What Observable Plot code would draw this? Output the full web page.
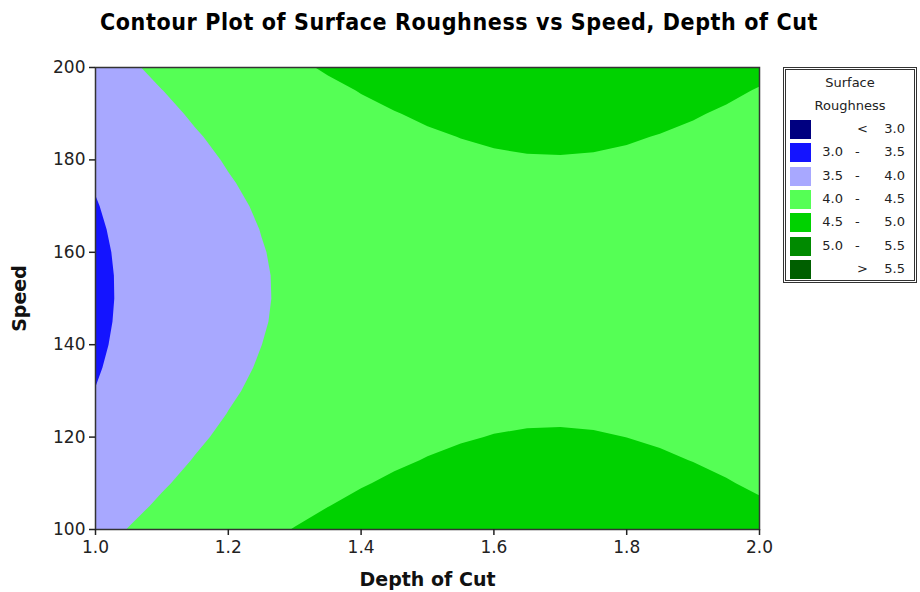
<!DOCTYPE html>
<html><head><meta charset="utf-8">
<script src="https://cdn.jsdelivr.net/npm/d3@7"></script>
<script src="https://cdn.jsdelivr.net/npm/@observablehq/plot@0.6"></script>
<style>
body{margin:0;background:#fff;}
#wrap{position:relative;width:920px;height:592px;font-family:"DejaVu Sans",sans-serif;color:#222;}
#title{position:absolute;left:0;top:9px;width:918px;text-align:center;font-family:"DejaVu Sans Condensed","DejaVu Sans",sans-serif;font-stretch:condensed;font-weight:bold;font-size:23px;letter-spacing:0.6px;color:#000;}
#chart{position:absolute;left:0;top:45px;}
#legend{position:absolute;left:783px;top:67px;width:128px;height:210px;border:3px double #333;font-size:13px;}
#legend .lt{position:absolute;left:0;width:128px;text-align:center;}
#legend .sw{position:absolute;left:4px;width:21px;height:19px;}
#legend .tx{position:absolute;white-space:nowrap;}
</style>
</head><body>
<div id="wrap">
  <div id="title">Contour Plot of Surface Roughness vs Speed, Depth of Cut</div>
  <div id="chart"></div>
  <div id="legend"></div>
</div>
<script>
// Grid sample positions (columns: Depth of Cut, rows: Speed)
const depthOfCut = [1.00, 1.05, 1.10, 1.15, 1.20, 1.25, 1.30, 1.35, 1.40, 1.45, 1.50,
                    1.55, 1.60, 1.65, 1.70, 1.75, 1.80, 1.85, 1.90, 1.95, 2.00];
const speed = [100, 105, 110, 115, 120, 125, 130, 135, 140, 145, 150,
               155, 160, 165, 170, 175, 180, 185, 190, 195, 200];
// Surface roughness at each (speed row, depth column)
const roughness = [
  [3.880,4.010,4.129,4.239,4.339,4.430,4.510,4.581,4.642,4.694,4.736,4.768,4.790,4.803,4.806,4.799,4.782,4.756,4.720,4.675,4.619], // 100
  [3.797,3.926,4.046,4.155,4.255,4.346,4.427,4.498,4.559,4.610,4.652,4.684,4.707,4.719,4.722,4.715,4.699,4.672,4.637,4.591,4.535], // 105
  [3.722,3.851,3.970,4.080,4.180,4.271,4.351,4.422,4.484,4.535,4.577,4.609,4.631,4.644,4.647,4.640,4.624,4.597,4.561,4.516,4.460], // 110
  [3.655,3.784,3.904,4.014,4.114,4.204,4.285,4.356,4.417,4.468,4.510,4.542,4.565,4.577,4.580,4.573,4.557,4.531,4.495,4.449,4.394], // 115
  [3.597,3.726,3.846,3.955,4.056,4.146,4.227,4.298,4.359,4.410,4.452,4.484,4.507,4.519,4.522,4.515,4.499,4.472,4.437,4.391,4.335], // 120
  [3.547,3.676,3.796,3.906,4.006,4.096,4.177,4.248,4.309,4.361,4.402,4.435,4.457,4.470,4.472,4.466,4.449,4.423,4.387,4.341,4.286], // 125
  [3.506,3.635,3.755,3.865,3.965,4.055,4.136,4.207,4.268,4.320,4.361,4.393,4.416,4.428,4.431,4.425,4.408,4.382,4.346,4.300,4.245], // 130
  [3.473,3.603,3.722,3.832,3.932,4.023,4.103,4.174,4.235,4.287,4.329,4.361,4.383,4.396,4.399,4.392,4.375,4.349,4.313,4.268,4.212], // 135
  [3.449,3.579,3.698,3.808,3.908,3.999,4.079,4.150,4.211,4.263,4.305,4.337,4.359,4.372,4.375,4.368,4.351,4.325,4.289,4.244,4.188], // 140
  [3.434,3.563,3.683,3.793,3.893,3.983,4.064,4.135,4.196,4.247,4.289,4.321,4.344,4.356,4.359,4.352,4.336,4.310,4.274,4.228,4.173], // 145
  [3.427,3.556,3.676,3.786,3.886,3.976,4.057,4.128,4.189,4.240,4.282,4.314,4.337,4.349,4.352,4.345,4.329,4.303,4.267,4.221,4.166], // 150
  [3.428,3.558,3.677,3.787,3.887,3.978,4.058,4.129,4.190,4.242,4.284,4.316,4.338,4.351,4.354,4.347,4.330,4.304,4.268,4.223,4.167], // 155
  [3.438,3.568,3.687,3.797,3.897,3.988,4.068,4.139,4.201,4.252,4.294,4.326,4.348,4.361,4.364,4.357,4.341,4.314,4.278,4.233,4.177], // 160
  [3.457,3.586,3.706,3.816,3.916,4.006,4.087,4.158,4.219,4.271,4.312,4.345,4.367,4.380,4.382,4.376,4.359,4.333,4.297,4.251,4.196], // 165
  [3.484,3.613,3.733,3.843,3.943,4.033,4.114,4.185,4.246,4.298,4.340,4.372,4.394,4.407,4.410,4.403,4.386,4.360,4.324,4.278,4.223], // 170
  [3.520,3.649,3.769,3.878,3.979,4.069,4.150,4.221,4.282,4.333,4.375,4.407,4.430,4.442,4.445,4.438,4.422,4.396,4.360,4.314,4.259], // 175
  [3.564,3.693,3.813,3.923,4.023,4.113,4.194,4.265,4.326,4.378,4.419,4.451,4.474,4.486,4.489,4.483,4.466,4.440,4.404,4.358,4.303], // 180
  [3.617,3.746,3.865,3.975,4.075,4.166,4.247,4.317,4.379,4.430,4.472,4.504,4.526,4.539,4.542,4.535,4.519,4.492,4.456,4.411,4.355], // 185
  [3.678,3.807,3.927,4.037,4.137,4.227,4.308,4.379,4.440,4.491,4.533,4.565,4.588,4.600,4.603,4.596,4.580,4.554,4.518,4.472,4.417], // 190
  [3.748,3.877,3.996,4.106,4.206,4.297,4.377,4.448,4.510,4.561,4.603,4.635,4.657,4.670,4.673,4.666,4.650,4.623,4.587,4.542,4.486], // 195
  [3.826,3.955,4.075,4.185,4.285,4.375,4.456,4.527,4.588,4.639,4.681,4.713,4.736,4.748,4.751,4.744,4.728,4.702,4.666,4.620,4.565]  // 200
];
const thresholds = [3.0, 3.5, 4.0, 4.5, 5.0, 5.5];
const bandColors = ["#000080", "#1414ff", "#a8a8ff", "#55ff55", "#00d200", "#008a00", "#005f00"];
const xTicks = [1.0, 1.2, 1.4, 1.6, 1.8, 2.0];
const yTicks = [100, 120, 140, 160, 180, 200];
const legendLow = ["", "3.0", "3.5", "4.0", "4.5", "5.0", ""];
const legendSep = ["<", "-", "-", "-", "-", "-", ">"];
const legendHigh = ["3.0", "3.5", "4.0", "4.5", "5.0", "5.5", "5.5"];

const nx = depthOfCut.length, ny = speed.length;
const hx = (depthOfCut[1] - depthOfCut[0]) / 2, hy = (speed[1] - speed[0]) / 2;
const flat = roughness.flat();

const chart = Plot.plot({
  width: 920,
  height: 547,
  marginLeft: 95,
  marginRight: 161,
  marginTop: 22,
  marginBottom: 63,
  style: {fontFamily: "DejaVu Sans, sans-serif", fontSize: "17px", color: "#222", background: "white"},
  x: {domain: [1, 2]},
  y: {domain: [100, 200]},
  color: {type: "threshold", domain: thresholds, range: bandColors},
  marks: [
    Plot.contour(flat, {
      width: nx, height: ny,
      x1: depthOfCut[0] - hx, x2: depthOfCut[nx - 1] + hx,
      y1: speed[0] - hy, y2: speed[ny - 1] + hy,
      thresholds, fill: Plot.identity, stroke: "none", clip: true
    }),
    Plot.frame({stroke: "#333", strokeWidth: 1.5}),
    Plot.axisX({ticks: xTicks, tickFormat: d => d.toFixed(1), tickSize: 6, tickPadding: 5, label: null, strokeWidth: 1.5}),
    Plot.axisY({ticks: yTicks, tickSize: 6, tickPadding: 4, label: null, strokeWidth: 1.5}),
    Plot.text(["Depth of Cut"], {frameAnchor: "bottom", dy: 56, fontWeight: "bold", fontSize: 19, fill: "#111"}),
    Plot.text(["Speed"], {frameAnchor: "left", textAnchor: "middle", dx: -76, rotate: -90, fontWeight: "bold", fontSize: 19, fill: "#111"})
  ]
});
document.getElementById("chart").appendChild(chart);

// Legend
const lg = document.getElementById("legend");
const t1 = document.createElement("div"); t1.className = "lt"; t1.style.top = "5px"; t1.textContent = "Surface"; lg.appendChild(t1);
const t2 = document.createElement("div"); t2.className = "lt"; t2.style.top = "28px"; t2.textContent = "Roughness"; lg.appendChild(t2);
bandColors.forEach((c, i) => {
  const top = 50 + i * 23.3;
  const sw = document.createElement("div"); sw.className = "sw"; sw.style.top = top + "px"; sw.style.background = c; lg.appendChild(sw);
  const mk = (txt, style) => { const d = document.createElement("div"); d.className = "tx"; d.textContent = txt; Object.assign(d.style, style); lg.appendChild(d); };
  const ty = (top + 1) + "px";
  if (legendLow[i]) mk(legendLow[i], {top: ty, right: (128 - 57) + "px"});
  mk(legendSep[i], {top: ty, left: (legendSep[i] === "-" ? 69 : 71) + "px"});
  mk(legendHigh[i], {top: ty, right: "9px"});
});
</script>
</body></html>
